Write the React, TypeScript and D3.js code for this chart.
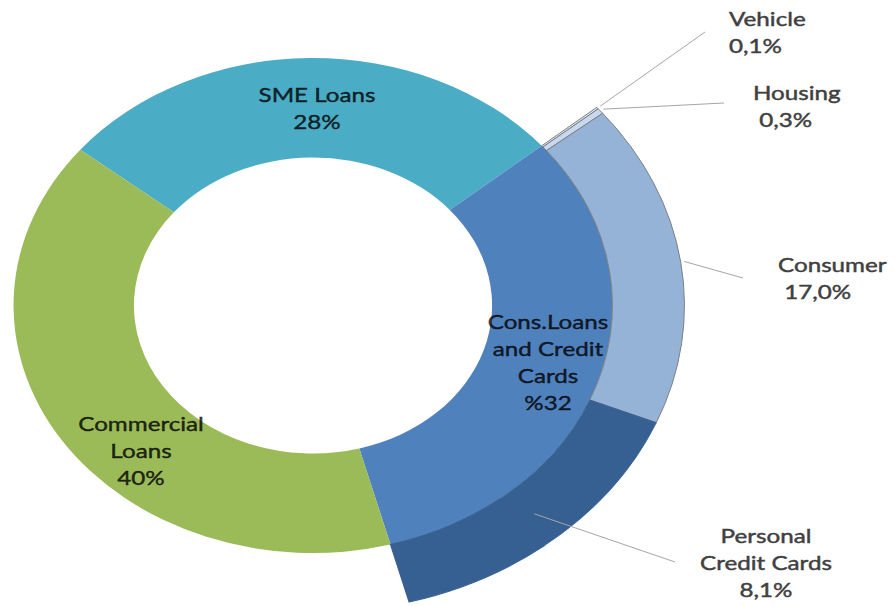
import React from "react";
import * as d3 from "d3";

// Loan portfolio breakdown: main ring plus a sub-ring splitting the consumer segment
const mainCategories = ["SME Loans", "Cons.Loans and Credit Cards", "Commercial Loans"];
const mainValues = [28, 32, 40];
const mainLabelLines = [["SME Loans"], ["Cons.Loans", "and Credit", "Cards"], ["Commercial", "Loans"]];
const mainPercentPrefix = [false, true, false];
const mainColors = ["#4bacc6", "#4f81bd", "#9bbb59"];

const subCategories = ["Vehicle", "Housing", "Consumer", "Personal Credit Cards"];
const subValues = [0.1, 0.3, 17.0, 8.1];
const subLabelLines = [["Vehicle"], ["Housing"], ["Consumer"], ["Personal", "Credit Cards"]];
const subColors = ["#dbe5f1", "#c6d9f0", "#95b3d7", "#376092"];
const subStroke = [true, true, true, false];

// label layout (screen px): first baseline, anchor, leader end point
const mainLabelLayout = [
  { x: 317, y: 102, anchor: "middle" },
  { x: 548, y: 329, anchor: "middle" },
  { x: 141, y: 431, anchor: "middle" },
];
const subLabelLayout = [
  { x: 729, y: 26, anchor: "start", pctIndent: "", lineEnd: [705, 32] },
  { x: 753, y: 100, anchor: "start", pctIndent: " ", lineEnd: [724, 103] },
  { x: 778, y: 272, anchor: "start", pctIndent: " ", lineEnd: [743, 278] },
  { x: 766, y: 543, anchor: "middle", pctIndent: "", lineEnd: [675, 562] },
];

const W = 895;
const H = 606;
const cx = 313;
const cy = 305.5;
const sx = 1.21;
const rInner = 148;
const rMain = 247.5;
const rSub = 307;
const lineH = 27;
const FONT = "Lato, 'Open Sans', sans-serif";
const fontSize = 20;

const deg = Math.PI / 180;
const startAngle = -51 * deg;

const fmtSub = (v: number) => d3.format(".1f")(v).replace(".", ",") + "%";

function Label({ x, y, anchor, lines, fill }: { x: number; y: number; anchor: string; lines: string[]; fill: string }) {
  return (
    <g transform={`translate(${x},${y}) scale(${sx},1)`}>
      <text
        fontFamily={FONT}
        fontSize={fontSize}
        fill={fill}
        stroke={fill}
        strokeWidth={0.45}
        textAnchor={anchor}
        style={{ whiteSpace: "pre" }}
      >
        {lines.map((l, i) => (
          <tspan key={i} x={0} y={i * lineH}>
            {l}
          </tspan>
        ))}
      </text>
    </g>
  );
}

export default function App() {
  const pie = d3
    .pie<number>()
    .sort(null)
    .value((d) => d)
    .startAngle(startAngle)
    .endAngle(startAngle + 2 * Math.PI);
  const mainArcs = pie(mainValues);
  const mainArc = d3.arc<d3.PieArcDatum<number>>().innerRadius(rInner).outerRadius(rMain);

  const total = d3.sum(mainValues);
  const consIdx = 1;
  const consStart = mainArcs[consIdx].startAngle;
  const consEnd = mainArcs[consIdx].endAngle;
  const angleOf = (v: number) => (v / total) * 2 * Math.PI;

  // sub-ring slices inside the consumer segment
  let a = consStart;
  const subArcs = subValues.map((v) => {
    const s = a;
    a += angleOf(v);
    return { startAngle: s, endAngle: a, value: v };
  });
  // portion of the segment not broken out in the sub-ring, shaded with the card slice
  const restArc = { startAngle: a, endAngle: consEnd };

  const ringArc = d3.arc<any>().innerRadius(rMain).outerRadius(rSub);

  const toScreen = (ang: number, r: number): [number, number] => [
    cx + Math.sin(ang) * r * sx,
    cy - Math.cos(ang) * r,
  ];

  // leader line start points
  const leaderStarts = subArcs.map((d, i) => {
    if (i === 3) {
      const mid = (d.startAngle + consEnd) / 2;
      return toScreen(mid, (rMain + rSub) / 2);
    }
    const mid = (d.startAngle + d.endAngle) / 2;
    return toScreen(mid, rSub + 3);
  });

  return (
    <svg
      width={W}
      height={H}
      viewBox={`0 0 ${W} ${H}`}
      style={{ position: "absolute", left: 0, top: 0, background: "#fff" }}
    >
      <g transform={`translate(${cx},${cy}) scale(${sx},1)`}>
        {mainArcs.map((d, i) => (
          <path key={mainCategories[i]} d={mainArc(d) || ""} fill={mainColors[i]} />
        ))}
        {subArcs.map((d, i) => (
          <path
            key={subCategories[i]}
            d={ringArc(d) || ""}
            fill={subColors[i]}
            stroke={subStroke[i] ? "#7f7f7f" : subColors[i]}
            strokeWidth={subStroke[i] ? 1 : 0.8}
            vectorEffect="non-scaling-stroke"
          />
        ))}
        <path
          d={ringArc(restArc) || ""}
          fill={subColors[3]}
          stroke={subColors[3]}
          strokeWidth={1.2}
          vectorEffect="non-scaling-stroke"
        />
      </g>

      {leaderStarts.map((p, i) => (
        <line
          key={"leader-" + i}
          x1={p[0]}
          y1={p[1]}
          x2={subLabelLayout[i].lineEnd[0]}
          y2={subLabelLayout[i].lineEnd[1]}
          stroke="#a6a6a6"
          strokeWidth={1}
        />
      ))}

      {mainValues.map((v, i) => (
        <Label
          key={"ml-" + i}
          x={mainLabelLayout[i].x}
          y={mainLabelLayout[i].y}
          anchor={mainLabelLayout[i].anchor}
          lines={[...mainLabelLines[i], mainPercentPrefix[i] ? `%${v}` : `${v}%`]}
          fill="rgba(0,0,0,0.78)"
        />
      ))}

      {subValues.map((v, i) => (
        <Label
          key={"sl-" + i}
          x={subLabelLayout[i].x}
          y={subLabelLayout[i].y}
          anchor={subLabelLayout[i].anchor}
          lines={[...subLabelLines[i], subLabelLayout[i].pctIndent + fmtSub(v)]}
          fill="#404040"
        />
      ))}
    </svg>
  );
}
